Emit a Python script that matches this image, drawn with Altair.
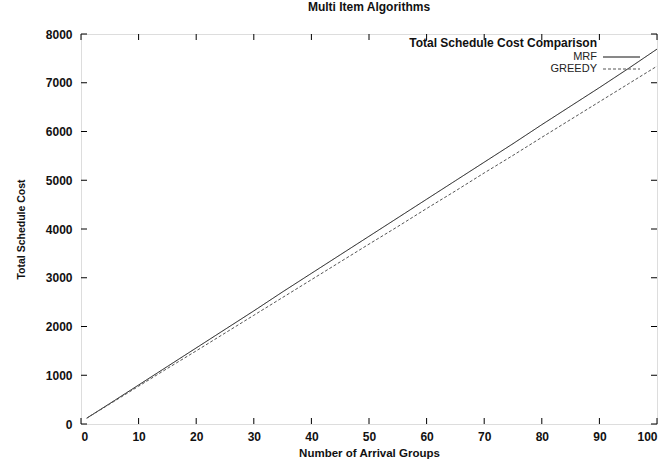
import altair as alt
import pandas as pd

# Number of arrival groups at which the schedule cost was sampled
groups = [1, 5, 10, 15, 20, 25, 30, 35, 40, 45, 50, 55, 60, 65, 70, 75, 80, 85, 90, 95, 100]
# Total schedule cost per algorithm
mrf_cost = [120, 420, 800, 1180, 1560, 1940, 2320, 2710, 3090, 3470, 3850, 4230, 4610,
            4990, 5370, 5750, 6140, 6520, 6900, 7290, 7690]
greedy_cost = [120, 410, 775, 1140, 1500, 1865, 2230, 2595, 2960, 3325, 3690, 4050, 4420,
               4780, 5150, 5510, 5880, 6245, 6610, 6975, 7340]

series_names = ["MRF", "GREEDY"]
x_ticks = [0, 10, 20, 30, 40, 50, 60, 70, 80, 90, 100]
y_ticks = [0, 1000, 2000, 3000, 4000, 5000, 6000, 7000, 8000]

W, H = 576, 390
FONT = "Liberation Sans"
INK = "#111111"

df = pd.DataFrame({
    "groups": groups * 2,
    "cost": mrf_cost + greedy_cost,
    "series": ["MRF"] * len(groups) + ["GREEDY"] * len(groups),
})

axis_text = dict(labelFont=FONT, labelFontSize=12, labelFontWeight="bold", labelColor=INK,
                 titleFont=FONT, titleFontWeight="bold", titleColor=INK,
                 tickSize=0, domain=False, grid=False)
x_scale = alt.Scale(domain=[0, 100], nice=False)
y_scale = alt.Scale(domain=[0, 8000], nice=False)
x_axis = alt.Axis(values=x_ticks, labelPadding=7, titlePadding=5, titleFontSize=11.5,
                  **axis_text)
y_axis = alt.Axis(values=y_ticks, format="d", labelPadding=9, titlePadding=19,
                  titleFontSize=10.5, **axis_text)
X = alt.X("groups:Q", scale=x_scale, title="Number of Arrival Groups", axis=x_axis)
Y = alt.Y("cost:Q", scale=y_scale, title="Total Schedule Cost", axis=y_axis)

dash_scale = alt.Scale(domain=series_names, range=[[1, 0], [3, 2]])
color_scale = alt.Scale(domain=series_names, range=["#111111", "#555555"])

lines = alt.Chart(df).mark_line(strokeWidth=1).encode(
    x=X, y=Y,
    strokeDash=alt.StrokeDash("series:N", scale=dash_scale, legend=None),
    color=alt.Color("series:N", scale=color_scale, legend=None),
    detail="series:N",
)

# gnuplot-style inward ticks on all four sides
xt = pd.DataFrame({"groups": x_ticks})
yt = pd.DataFrame({"cost": y_ticks})
tick_len = 6
tick_style = dict(color="black", strokeWidth=1)
x_bottom = alt.Chart(xt).mark_rule(**tick_style).encode(
    x=X, y=alt.value(H), y2=alt.value(H - tick_len))
x_top = alt.Chart(xt).mark_rule(**tick_style).encode(
    x=X, y=alt.value(0), y2=alt.value(tick_len))
y_left = alt.Chart(yt).mark_rule(**tick_style).encode(
    y=Y, x=alt.value(0), x2=alt.value(tick_len))
y_right = alt.Chart(yt).mark_rule(**tick_style).encode(
    y=Y, x=alt.value(W), x2=alt.value(W - tick_len))

# Key in the upper right corner: label on the left, line sample on the right
key_layers = [
    alt.Chart(pd.DataFrame({"t": ["Total Schedule Cost Comparison"]})).mark_text(
        align="right", baseline="middle", font=FONT, fontSize=12, fontWeight="bold",
        color=INK
    ).encode(text="t:N", x=alt.value(516), y=alt.value(9))
]
for i, name in enumerate(series_names):
    row_y = 23 + 12 * i
    key_df = pd.DataFrame({"series": [name]})
    key_layers.append(
        alt.Chart(key_df).mark_text(
            align="right", baseline="middle", font=FONT, fontSize=11, color="#222222"
        ).encode(text="series:N", x=alt.value(516), y=alt.value(row_y))
    )
    key_layers.append(
        alt.Chart(key_df).mark_rule(strokeWidth=1).encode(
            x=alt.value(522), x2=alt.value(559), y=alt.value(row_y),
            strokeDash=alt.StrokeDash("series:N", scale=dash_scale, legend=None),
            color=alt.Color("series:N", scale=color_scale, legend=None),
        )
    )

chart = alt.layer(
    lines, x_bottom, x_top, y_left, y_right, *key_layers
).properties(
    width=W, height=H,
    title=alt.Title("Multi Item Algorithms", font=FONT, fontSize=12, fontWeight="bold",
                    color=INK, offset=14, anchor="middle"),
    autosize=alt.AutoSizeParams(type="none"),
    padding={"left": 81, "top": 34, "right": 12, "bottom": 40},
).configure_view(
    stroke="black", strokeWidth=1.2
).configure(background="white")

chart.save("out.html", embed_options={"renderer": "svg", "actions": False})
